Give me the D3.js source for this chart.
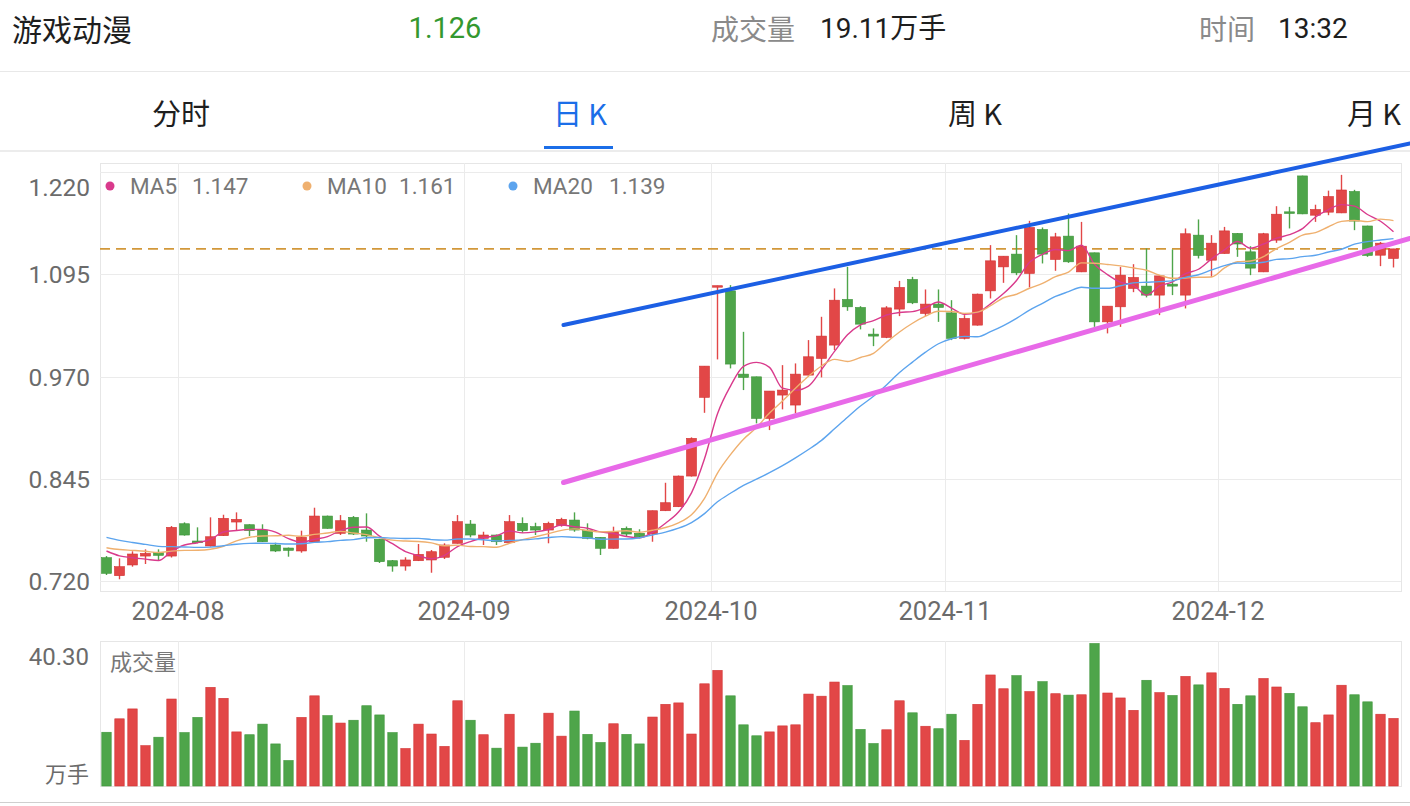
<!DOCTYPE html>
<html><head><meta charset="utf-8">
<script src="https://cdn.jsdelivr.net/npm/d3@7/dist/d3.min.js"></script>
<style>html,body{margin:0;padding:0;background:#fff;overflow:hidden}</style>
</head><body><svg id="c" width="1410" height="806"></svg>
<script>
// ---------------- DATA ----------------
const dates = [
"2024-07-24","2024-07-25","2024-07-26","2024-07-29","2024-07-30","2024-07-31",
"2024-08-01","2024-08-02","2024-08-05","2024-08-06","2024-08-07","2024-08-08","2024-08-09","2024-08-12","2024-08-13","2024-08-14","2024-08-15","2024-08-16","2024-08-19","2024-08-20","2024-08-21","2024-08-22","2024-08-23","2024-08-26","2024-08-27","2024-08-28","2024-08-29","2024-08-30",
"2024-09-02","2024-09-03","2024-09-04","2024-09-05","2024-09-06","2024-09-09","2024-09-10","2024-09-11","2024-09-12","2024-09-13","2024-09-18","2024-09-19","2024-09-20","2024-09-23","2024-09-24","2024-09-25","2024-09-26","2024-09-27","2024-09-30",
"2024-10-08","2024-10-09","2024-10-10","2024-10-11","2024-10-14","2024-10-15","2024-10-16","2024-10-17","2024-10-18","2024-10-21","2024-10-22","2024-10-23","2024-10-24","2024-10-25","2024-10-28","2024-10-29","2024-10-30","2024-10-31",
"2024-11-01","2024-11-04","2024-11-05","2024-11-06","2024-11-07","2024-11-08","2024-11-11","2024-11-12","2024-11-13","2024-11-14","2024-11-15","2024-11-18","2024-11-19","2024-11-20","2024-11-21","2024-11-22","2024-11-25","2024-11-26","2024-11-27","2024-11-28","2024-11-29",
"2024-12-02","2024-12-03","2024-12-04","2024-12-05","2024-12-06","2024-12-09","2024-12-10","2024-12-11","2024-12-12","2024-12-13","2024-12-16","2024-12-17","2024-12-18","2024-12-19"];

const opens = [0.7485,0.7265,0.7396,0.7505,0.7546,0.7505,0.7900,0.7689,0.7628,0.7754,
0.7921,0.7888,0.7823,0.7640,0.7603,0.7567,0.7677,0.7994,0.7783,0.7978,
0.7823,0.7710,0.7448,0.7383,0.7448,0.7457,0.7490,0.7661,0.7896,0.7722,
0.7762,0.7668,0.7905,0.7864,0.7823,0.7881,0.7945,0.7815,0.7734,0.7600,
0.7844,0.7783,0.7774,0.8059,0.8108,0.8483,0.9445,1.0805,1.0747,0.9729,
0.9696,0.9188,0.9473,0.9351,0.9717,0.9921,1.0084,1.0642,1.0544,1.0218,
1.0178,1.0524,1.0886,1.0471,1.0585,1.0478,1.0166,1.0328,1.0747,1.1040,
1.1196,1.0960,1.1497,1.1131,1.1416,1.0979,1.1212,1.0368,1.0552,1.0777,
1.0805,1.0695,1.0829,1.0695,1.1428,1.1122,1.1204,1.1449,1.1224,1.0979,
1.1367,1.1713,1.2152,1.1672,1.1709,1.1700,1.1962,1.1540,1.1183,1.1143];

const highs = [0.7505,0.7477,0.7563,0.7587,0.7587,0.7872,0.7917,0.7856,0.7978,0.8010,
0.8039,0.7893,0.7893,0.7668,0.7609,0.7815,0.8096,0.8000,0.8006,0.7994,
0.8027,0.7713,0.7457,0.7490,0.7652,0.7579,0.7661,0.8006,0.7945,0.7802,
0.7768,0.8006,0.7978,0.7912,0.7925,0.7973,0.8039,0.7905,0.7738,0.7864,
0.7866,0.7832,0.8061,0.8401,0.8489,0.8956,0.9827,1.0810,1.0817,1.0246,
0.9699,0.9522,0.9839,0.9860,1.0145,1.0430,1.0777,1.1040,1.0560,1.0288,
1.0560,1.0869,1.0918,1.0764,1.0764,1.0633,1.0450,1.0713,1.1306,1.1171,
1.1428,1.1603,1.1522,1.1456,1.1693,1.1590,1.1215,1.0560,1.1040,1.1073,
1.1265,1.0939,1.1253,1.1510,1.1620,1.1428,1.1529,1.1453,1.1293,1.1456,
1.1782,1.1774,1.2155,1.1800,1.1972,1.2165,1.1982,1.1544,1.1345,1.1260];

const lows = [0.7273,0.7221,0.7375,0.7408,0.7457,0.7487,0.7754,0.7661,0.7622,0.7750,
0.7815,0.7750,0.7677,0.7554,0.7497,0.7546,0.7670,0.7839,0.7762,0.7762,
0.7680,0.7420,0.7314,0.7326,0.7444,0.7301,0.7469,0.7658,0.7734,0.7640,
0.7640,0.7664,0.7790,0.7762,0.7661,0.7864,0.7802,0.7710,0.7518,0.7597,
0.7750,0.7722,0.7680,0.8055,0.8104,0.8477,0.9256,0.9909,0.9799,0.9534,
0.9127,0.9045,0.9298,0.9249,0.9711,0.9689,1.0023,1.0503,1.0276,1.0071,
1.0169,1.0438,1.0585,1.0438,1.0368,1.0145,1.0153,1.0322,1.0654,1.0845,
1.0939,1.0789,1.1082,1.0992,1.1089,1.0976,1.0307,1.0227,1.0307,1.0731,
1.0667,1.0450,1.0695,1.0532,1.1143,1.0918,1.1201,1.1163,1.0939,1.0976,
1.1334,1.1510,1.1684,1.1590,1.1672,1.1697,1.1489,1.1163,1.1049,1.1033];

const closes = [0.7294,0.7375,0.7530,0.7538,0.7514,0.7856,0.7762,0.7668,0.7741,0.7966,
0.7954,0.7815,0.7680,0.7567,0.7575,0.7734,0.7994,0.7844,0.7937,0.7774,
0.7750,0.7436,0.7383,0.7457,0.7526,0.7558,0.7640,0.7925,0.7762,0.7762,
0.7680,0.7925,0.7815,0.7823,0.7905,0.7954,0.7823,0.7722,0.7600,0.7802,
0.7774,0.7741,0.8059,0.8157,0.8483,0.8944,0.9827,1.0810,0.9852,0.9689,
0.9188,0.9522,0.9534,0.9729,0.9941,1.0194,1.0633,1.0552,1.0340,1.0194,
1.0539,1.0789,1.0601,1.0585,1.0544,1.0166,1.0410,1.0707,1.1114,1.1171,
1.0967,1.1522,1.1196,1.1407,1.1102,1.1293,1.0368,1.0560,1.0939,1.0911,
1.0695,1.0930,1.0805,1.1445,1.1180,1.1330,1.1480,1.1320,1.1025,1.1445,
1.1684,1.1693,1.1688,1.1742,1.1900,1.1980,1.1600,1.1180,1.1330,1.1260];

// volume, 万手
const volumes = [15.2,19.0,21.8,11.4,13.8,24.6,15.1,19.4,27.9,24.8,
15.3,14.5,17.5,11.9,7.2,19.4,25.5,19.9,17.8,18.6,
22.7,20.1,15.1,10.6,17.5,14.7,11.2,24.1,18.6,14.5,
10.7,20.3,11.0,12.1,20.6,14.1,21.2,14.6,12.3,17.6,
14.6,11.9,19.5,23.1,23.5,14.7,28.9,32.7,25.5,17.3,
14.2,15.3,17.0,17.3,26.0,25.4,29.4,28.4,16.0,12.0,
15.9,24.1,20.7,16.9,16.2,20.3,12.9,23.1,31.4,27.5,
31.2,26.7,29.5,26.1,25.7,25.8,40.30,26.3,24.9,21.4,
29.9,26.4,25.6,31.0,28.6,32.0,27.6,23.1,25.5,30.4,
28.0,26.2,22.4,17.9,20.1,28.5,25.8,23.8,20.3,19.11];

// closes before the first visible day (needed for the moving averages)
const earlierCloses = [0.812,0.806,0.800,0.798,0.794,0.784,0.776,0.768,0.764,0.759,
0.760,0.763,0.765,0.767,0.7686,0.767,0.765,0.762,0.760];

const priceTicks = [0.720,0.845,0.970,1.095,1.220];
const monthLabels = ["2024-08","2024-09","2024-10","2024-11","2024-12"];
const maPeriods = [5,10,20];
const maNames = ["MA5","MA10","MA20"];
const trendUpper = [{date:"2024-09-11",price:1.0324},{date:"2024-12-13",price:1.2369}];
const trendLower = [{date:"2024-09-11",price:0.8397},{date:"2024-12-13",price:1.1146}];
const headerName = "游戏动漫";
const headerLabels = ["成交量","时间"];
const headerTime = "13:32";
const volUnit = "万手";
const tabs = ["分时","日 K","周 K","月 K"];

// ---------------- DRAW ----------------
const svg = d3.select("#c");
const NUM = "Roboto, 'Noto Sans CJK SC', sans-serif";
const CJK = "'Noto Sans CJK SC', Roboto, sans-serif";
const RED = "#e24747", RED_D = "#d23232", GREEN = "#4ea54a", GREEN_D = "#3c9438";
const MA_COLORS = ["#d93a8c","#efb06f","#5ca4ee"];

const L = 100, R = 1400, PT = 163, PB = 591, VT = 641, VB = 786;

const x = d3.scaleBand().domain(dates).range([L, R]).padding(0);
const bw = x.bandwidth();
const cx = d => x(d) + bw / 2;
const yP = d3.scaleLinear().domain([0.720, 1.220]).range([581, 172]);
const yV = d3.scaleLinear().domain([0, d3.max(volumes)]).range([VB, 643.5]);

// header
svg.append("text").attr("x", 12).attr("y", 28).attr("dominant-baseline","central")
  .attr("font-family", CJK).attr("font-size", 30).attr("fill", "#1e1e1e").text(headerName);
svg.append("text").attr("x", 445).attr("y", 28).attr("text-anchor","middle").attr("dominant-baseline","central")
  .attr("font-family", NUM).attr("font-size", 29).attr("fill", "#34982f").text(d3.format(".3f")(closes[closes.length-1]));
svg.append("text").attr("x", 711).attr("y", 28).attr("dominant-baseline","central")
  .attr("font-family", CJK).attr("font-size", 28).attr("fill", "#8a8a8a").text(headerLabels[0]);
svg.append("text").attr("x", 820).attr("y", 28).attr("dominant-baseline","central")
  .attr("font-family", NUM).attr("font-size", 28).attr("fill", "#1e1e1e").text(volumes[volumes.length-1].toFixed(2) + volUnit);
svg.append("text").attr("x", 1199).attr("y", 28).attr("dominant-baseline","central")
  .attr("font-family", CJK).attr("font-size", 28).attr("fill", "#8a8a8a").text(headerLabels[1]);
svg.append("text").attr("x", 1278).attr("y", 28).attr("dominant-baseline","central")
  .attr("font-family", NUM).attr("font-size", 28).attr("fill", "#1e1e1e").text(headerTime);
svg.append("line").attr("x1",0).attr("x2",1410).attr("y1",71.5).attr("y2",71.5).attr("stroke","#e8e8e8");

// tabs
const tabX = [181, 580, 975, 1374];
tabs.forEach((t,i) => {
  svg.append("text").attr("x", tabX[i]).attr("y", 112).attr("text-anchor","middle").attr("dominant-baseline","central")
    .attr("font-family", CJK).attr("font-size", 29).attr("fill", i===1 ? "#1b6ee8" : "#1e1e1e").text(t);
});
svg.append("rect").attr("x",544).attr("y",146).attr("width",69).attr("height",3).attr("fill","#1b6ee8");
svg.append("rect").attr("x",0).attr("y",150).attr("width",1410).attr("height",2).attr("fill","#ececec");

// frames
const grid = svg.append("g");
grid.append("rect").attr("x",L+0.5).attr("y",PT+0.5).attr("width",R-L+1).attr("height",PB-PT)
  .attr("fill","none").attr("stroke","#e6e6e6");
grid.append("rect").attr("x",L+0.5).attr("y",VT+0.5).attr("width",R-L+1).attr("height",VB-VT)
  .attr("fill","none").attr("stroke","#e6e6e6");
grid.selectAll(".hg").data(priceTicks).join("line")
  .attr("x1",L).attr("x2",R+1).attr("y1",d=>Math.round(yP(d))+0.5).attr("y2",d=>Math.round(yP(d))+0.5)
  .attr("stroke","#ebebeb");

// month gridlines & labels
const monthStarts = monthLabels.map(m => dates.find(d => d.startsWith(m)));
monthStarts.forEach((d,i) => {
  const xx = Math.round(x(d)) + 0.5;
  grid.append("line").attr("x1",xx).attr("x2",xx).attr("y1",PT).attr("y2",PB).attr("stroke","#ebebeb");
  grid.append("line").attr("x1",xx).attr("x2",xx).attr("y1",VT).attr("y2",VB).attr("stroke","#ebebeb");
  svg.append("text").attr("x", x(d)).attr("y", 611).attr("text-anchor","middle").attr("dominant-baseline","central")
    .attr("font-family", NUM).attr("font-size", 25.5).attr("fill", "#6b6b6b").text(monthLabels[i]);
});

// price axis
const yAxis = d3.axisLeft(yP).tickValues(priceTicks).tickSize(0).tickPadding(10).tickFormat(d3.format(".3f"));
const ya = svg.append("g").attr("transform",`translate(${L},0)`).call(yAxis);
ya.select(".domain").remove();
ya.selectAll("text").attr("font-family", NUM).attr("font-size", 24.5).attr("fill","#6b6b6b")
  .attr("dy", null).attr("dominant-baseline","central")
  .attr("y", d => Math.max(0, (PT + 24) - yP(d)));

// dashed current price line
const last = closes[closes.length-1];
svg.append("line").attr("x1",L).attr("x2",R).attr("y1",yP(last)).attr("y2",yP(last))
  .attr("stroke","#d2983a").attr("stroke-width",1.6).attr("stroke-dasharray","10,6");

// candles
const idx = d3.range(dates.length);
const up = i => closes[i] >= opens[i];
const bodyW = bw * 0.77;
const cg = svg.append("g");
cg.selectAll(".wick").data(idx).join("line")
  .attr("x1", i => cx(dates[i])).attr("x2", i => cx(dates[i]))
  .attr("y1", i => yP(highs[i])).attr("y2", i => yP(lows[i]))
  .attr("stroke", i => up(i) ? RED : GREEN).attr("stroke-width", 1.4);
cg.selectAll(".body").data(idx).join("rect")
  .attr("x", i => cx(dates[i]) - bodyW/2).attr("width", bodyW)
  .attr("y", i => yP(Math.max(opens[i], closes[i])))
  .attr("height", i => Math.max(1.5, Math.abs(yP(opens[i]) - yP(closes[i]))))
  .attr("fill", i => up(i) ? RED : GREEN)
  .attr("stroke", i => up(i) ? RED_D : GREEN_D).attr("stroke-width", 0.6);

// moving averages
const allCloses = earlierCloses.concat(closes);
const off = earlierCloses.length;
const maSeries = maPeriods.map(n => idx.map(i => d3.mean(allCloses.slice(i + off - n + 1, i + off + 1))));
const line = d3.line().x((v,i) => cx(dates[i])).y(v => yP(v)).curve(d3.curveMonotoneX);
maSeries.forEach((s,k) => {
  svg.append("path").attr("d", line(s)).attr("fill","none").attr("stroke", MA_COLORS[k]).attr("stroke-width", 1.4);
});

// legend
const legX = [110, 307, 513], valX = [192, 399, 609];
maNames.forEach((nm,k) => {
  svg.append("circle").attr("cx", legX[k]).attr("cy", 186).attr("r", 4.5).attr("fill", MA_COLORS[k]);
  svg.append("text").attr("x", legX[k] + 20).attr("y", 186).attr("dominant-baseline","central")
    .attr("font-family", NUM).attr("font-size", 22.5).attr("fill","#777").text(nm);
  svg.append("text").attr("x", valX[k]).attr("y", 186).attr("dominant-baseline","central")
    .attr("font-family", NUM).attr("font-size", 22.5).attr("fill","#777")
    .text(d3.format(".3f")(maSeries[k][maSeries[k].length-1]));
});

// trend lines (extended to the right edge)
function trend(pts, color, w) {
  const x1 = cx(pts[0].date), y1 = yP(pts[0].price);
  const x2 = cx(pts[1].date), y2 = yP(pts[1].price);
  const s = (y2 - y1) / (x2 - x1);
  const xs = x1 + 2, xe = 1410;
  svg.append("line").attr("x1", xs).attr("y1", y1 + s * (xs - x1)).attr("x2", xe).attr("y2", y1 + s * (xe - x1))
    .attr("stroke", color).attr("stroke-width", w).attr("stroke-linecap","round");
}
trend(trendLower, "#e86ae8", 5);
trend(trendUpper, "#1c5fe4", 4);

// volume
svg.append("g").selectAll("rect").data(idx).join("rect")
  .attr("x", i => cx(dates[i]) - bodyW/2 + 0.3).attr("width", bodyW - 0.6)
  .attr("y", i => yV(volumes[i])).attr("height", i => VB - yV(volumes[i]))
  .attr("fill", i => up(i) ? RED : GREEN)
  .attr("stroke", i => up(i) ? RED_D : GREEN_D).attr("stroke-width", 0.6);
svg.append("text").attr("x", 110).attr("y", 660).attr("dominant-baseline","central")
  .attr("font-family", CJK).attr("font-size", 22).attr("fill","#777").text(headerLabels[0]);
svg.append("text").attr("x", 89).attr("y", 657).attr("text-anchor","end").attr("dominant-baseline","central")
  .attr("font-family", NUM).attr("font-size", 24).attr("fill","#6b6b6b").text(d3.format(".2f")(d3.max(volumes)));
svg.append("text").attr("x", 89).attr("y", 772).attr("text-anchor","end").attr("dominant-baseline","central")
  .attr("font-family", CJK).attr("font-size", 22).attr("fill","#6b6b6b").text(volUnit);

svg.append("line").attr("x1",0).attr("x2",1410).attr("y1",802.5).attr("y2",802.5).attr("stroke","#cfcfcf");
</script></body></html>
